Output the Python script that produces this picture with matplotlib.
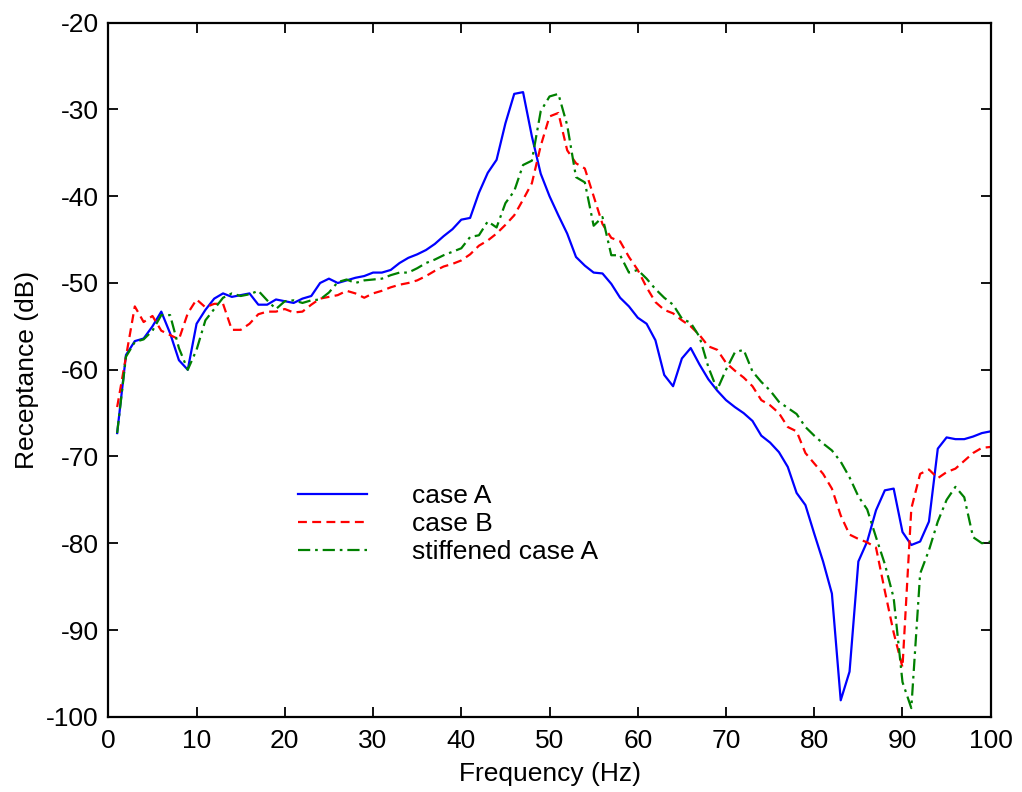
import numpy as np
import matplotlib
matplotlib.use("Agg")
import matplotlib.pyplot as plt

plt.rcParams['font.family'] = ['Liberation Sans', 'DejaVu Sans']
plt.rcParams['axes.unicode_minus'] = False

freq = list(range(1, 101))

case_a = [-67.3, -58.3, -56.7, -56.4, -55.0, -53.3, -55.8, -58.9, -60.0, -54.7,
          -53.1, -51.8, -51.2, -51.6, -51.4, -51.2, -52.5, -52.5, -51.9, -52.1,
          -52.3, -51.8, -51.5, -50.0, -49.5, -50.0, -49.7, -49.4, -49.2, -48.8,
          -48.8, -48.5, -47.7, -47.1, -46.7, -46.2, -45.5, -44.6, -43.8, -42.7,
          -42.5, -39.6, -37.3, -35.8, -31.6, -28.2, -28.0, -33.1, -37.4, -40.0,
          -42.2, -44.3, -47.0, -48.0, -48.8, -48.9, -50.1, -51.7, -52.7, -54.0,
          -54.7, -56.6, -60.6, -61.9, -58.7, -57.5, -59.4, -61.1, -62.4, -63.5,
          -64.3, -65.0, -65.9, -67.6, -68.4, -69.5, -71.2, -74.2, -75.6, -78.9,
          -82.1, -85.8, -98.1, -94.8, -82.1, -79.8, -76.2, -73.9, -73.7, -78.7,
          -80.2, -79.8, -77.5, -69.1, -67.8, -68.0, -68.0, -67.7, -67.3, -67.1]

case_b = [-64.3, -58.5, -52.7, -54.5, -53.8, -55.5, -56.0, -56.5, -53.5, -51.9,
          -52.8, -52.4, -52.4, -55.4, -55.4, -54.7, -53.6, -53.3, -53.3, -53.0,
          -53.4, -53.3, -52.5, -51.8, -51.6, -51.4, -50.9, -51.2, -51.7, -51.2,
          -50.9, -50.5, -50.2, -50.0, -49.7, -49.2, -48.6, -48.1, -47.8, -47.4,
          -46.7, -45.7, -45.1, -44.3, -43.3, -42.2, -40.4, -38.5, -34.2, -30.8,
          -30.4, -34.7, -36.2, -36.8, -40.0, -43.2, -44.8, -45.2, -47.0, -48.5,
          -50.5, -52.2, -53.1, -53.5, -54.3, -55.0, -56.0, -57.3, -57.7, -59.2,
          -60.1, -60.9, -61.9, -63.5, -64.1, -65.0, -66.6, -67.1, -69.6, -70.8,
          -72.0, -73.7, -76.8, -79.0, -79.5, -79.9, -80.5, -85.5, -90.3, -94.3,
          -76.0, -72.0, -71.5, -72.5, -71.8, -71.4, -70.5, -69.6, -69.0, -68.9]

stiff_a = [-67.3, -58.5, -56.8, -56.5, -55.5, -53.7, -53.7, -57.5, -60.0, -57.7,
           -54.3, -53.0, -51.7, -51.2, -51.5, -51.3, -50.9, -52.0, -53.0, -52.1,
           -52.0, -52.3, -52.0, -51.9, -51.1, -49.9, -49.6, -50.0, -49.7, -49.6,
           -49.5, -49.1, -48.8, -48.8, -48.3, -47.7, -47.3, -46.8, -46.4, -46.0,
           -44.7, -44.5, -42.9, -43.6, -40.8, -39.4, -36.4, -35.9, -30.2, -28.5,
           -28.2, -31.8, -37.8, -38.4, -43.4, -42.4, -46.8, -46.8, -48.8, -48.5,
           -49.5, -50.7, -51.7, -52.5, -54.1, -54.6, -56.2, -59.7, -62.3, -60.0,
           -58.0, -57.7, -60.2, -61.4, -62.4, -63.7, -64.4, -65.1, -66.6, -67.6,
           -68.5, -69.3, -70.6, -72.4, -74.6, -76.1, -79.3, -82.4, -86.3, -96.0,
           -99.0, -83.5, -80.8, -77.5, -75.0, -73.5, -74.7, -79.3, -80.0, -79.8]

labels = ['case A', 'case B', 'stiffened case A']
x_ticks = [0, 10, 20, 30, 40, 50, 60, 70, 80, 90, 100]
y_ticks = [-100, -90, -80, -70, -60, -50, -40, -30, -20]

fs = 19
fig = plt.figure(figsize=(10.22, 7.92), dpi=100)
ax = fig.add_axes([0.106, 0.095, 0.8634, 0.8763])

ax.plot(freq, case_a, color='#0000ff', lw=1.6, label=labels[0])
ax.plot(freq, case_b, color='#ff0000', lw=1.6, dashes=(4.0, 2.4), label=labels[1])
ax.plot(freq, stiff_a, color='#008000', lw=1.6, dashes=(5.5, 2.2, 1.2, 2.2), label=labels[2])

ax.set_xlim(0, 100)
ax.set_ylim(-100, -20)
ax.set_xticks(x_ticks)
ax.set_yticks(y_ticks)
ax.tick_params(direction='in', length=7, width=1.3, top=True, right=True,
               labelsize=fs)
ax.tick_params(axis='x', pad=9)
ax.tick_params(axis='y', pad=7)
for s in ax.spines.values():
    s.set_linewidth(1.6)
ax.set_xlabel('Frequency (Hz)', fontsize=fs, labelpad=6)
ax.set_ylabel('Receptance (dB)', fontsize=fs, labelpad=5)

ax.legend(loc='upper left', bbox_to_anchor=(0.215, 0.335), frameon=False,
          fontsize=fs, handlelength=2.6, handletextpad=1.7, labelspacing=0.15,
          borderpad=0, borderaxespad=0)

fig.savefig('out.png', dpi=100)
